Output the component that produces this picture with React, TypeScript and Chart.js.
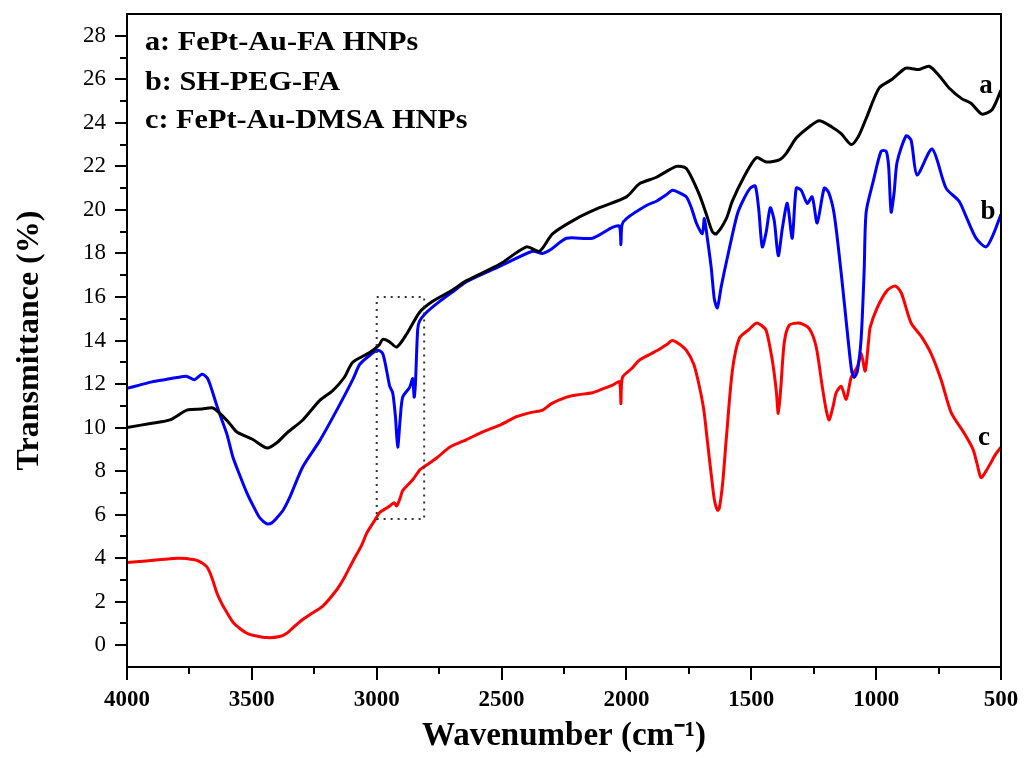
import React, { useEffect, useRef } from "react";
import { Chart, registerables } from "chart.js";

Chart.register(...registerables);

const SERIF = '"Liberation Serif", "Times New Roman", serif';

// a: FePt-Au-FA HNPs
const wavenumberA = [
  4000, 3900, 3828, 3760, 3700, 3656, 3628, 3590, 3560, 3496, 3440, 3400, 3360, 3296, 3228, 3176,
  3130, 3096, 3028, 2990, 2976, 2950, 2920, 2880, 2828, 2776, 2700, 2640, 2508, 2400, 2348, 2296,
  2200, 2108, 2000, 1948, 1880, 1800, 1760, 1708, 1680, 1656, 1640, 1600, 1576, 1530, 1480, 1440,
  1388, 1360, 1320, 1270, 1228, 1176, 1140, 1100, 1070, 1040, 988, 936, 884, 860, 828, 788, 750,
  708, 656, 620, 576, 536, 500,
];
const transmittanceA = [
  10.0, 10.2, 10.35, 10.8, 10.85, 10.9, 10.65, 10.2, 9.8, 9.45, 9.06, 9.3, 9.75, 10.35, 11.25, 11.7,
  12.3, 13.0, 13.45, 13.8, 14.05, 13.95, 13.7, 14.3, 15.3, 15.8, 16.3, 16.75, 17.5, 18.3, 18.1, 18.9,
  19.6, 20.1, 20.6, 21.2, 21.5, 22.0, 21.9, 20.7, 19.8, 19.0, 18.9, 19.6, 20.4, 21.5, 22.4, 22.2,
  22.3, 22.6, 23.3, 23.8, 24.1, 23.8, 23.5, 23.0, 23.4, 24.2, 25.6, 26.0, 26.5, 26.5, 26.45, 26.6, 26.2,
  25.6, 25.1, 24.9, 24.4, 24.6, 25.5,
];

// b: SH-PEG-FA
const wavenumberB = [
  4000, 3950, 3900, 3850, 3800, 3760, 3730, 3700, 3680, 3668, 3640, 3628, 3600, 3576, 3548, 3520,
  3490, 3468, 3440, 3420, 3400, 3375, 3348, 3296, 3228, 3160, 3096, 3068, 3030, 2996, 2976, 2960,
  2948, 2936, 2925, 2916, 2906, 2896, 2868, 2856, 2850, 2845, 2836, 2828, 2800, 2748, 2700, 2640,
  2508, 2376, 2336, 2300, 2240, 2136, 2056, 2028, 2022, 2018, 2000, 1920, 1880, 1840, 1816, 1790,
  1760, 1740, 1720, 1696, 1688, 1676, 1660, 1648, 1636, 1620, 1596, 1556, 1530, 1504, 1484, 1470,
  1456, 1440, 1424, 1408, 1392, 1375, 1356, 1336, 1320, 1300, 1276, 1256, 1236, 1208, 1190, 1168,
  1140, 1112, 1098, 1088, 1075, 1060, 1048, 1040, 1012, 980, 960, 950, 940, 928, 916, 880, 860, 836,
  776, 720, 668, 640, 600, 560, 530, 500,
];
const transmittanceB = [
  11.8, 11.95, 12.1, 12.2, 12.3, 12.35, 12.2, 12.45, 12.3, 12.0, 11.0, 10.6, 9.7, 8.65, 7.8, 7.0,
  6.3, 5.85, 5.58, 5.62, 5.85, 6.2, 6.8, 8.2, 9.4, 10.8, 12.2, 12.9, 13.3, 13.55, 13.4, 12.6,
  11.9, 11.6, 10.5, 9.1, 10.4, 11.4, 11.85, 12.25, 11.4, 12.0, 14.5, 14.9, 15.3, 15.8, 16.2, 16.7,
  17.4, 18.1, 18.0, 18.2, 18.7, 18.7, 19.2, 19.25, 18.4, 19.3, 19.6, 20.2, 20.4, 20.7, 20.9, 20.8,
  20.6, 20.1, 19.4, 18.9, 19.6, 18.7, 17.3, 15.9, 15.5, 16.5, 17.8, 19.8, 20.5, 21.0, 21.1, 20.0,
  18.3, 19.0, 20.1, 19.5, 17.9, 19.2, 20.3, 18.7, 21.0, 20.9, 20.3, 20.6, 19.4, 21.0, 20.8, 19.8,
  17.1, 14.0, 12.6, 12.3, 12.6, 14.1, 17.2, 19.9, 21.3, 22.7, 22.7, 22.0, 19.9, 20.8, 22.2, 23.4, 23.2, 21.6,
  22.8, 21.0, 20.4, 19.7, 18.7, 18.3, 18.9, 19.8,
];

// c: FePt-Au-DMSA HNPs
const wavenumberC = [
  4000, 3950, 3896, 3850, 3800, 3760, 3720, 3680, 3660, 3640, 3620, 3600, 3575, 3548, 3520, 3496,
  3440, 3388, 3360, 3336, 3300, 3268, 3216, 3160, 3130, 3096, 3060, 3040, 3010, 2988, 2960, 2948,
  2930, 2920, 2905, 2896, 2856, 2828, 2816, 2760, 2708, 2640, 2576, 2500, 2440, 2380, 2336, 2300,
  2240, 2200, 2136, 2090, 2056, 2028, 2022, 2016, 1980, 1948, 1900, 1868, 1840, 1816, 1790, 1760,
  1730, 1708, 1690, 1676, 1660, 1648, 1635, 1628, 1615, 1600, 1576, 1548, 1510, 1480, 1460, 1440,
  1416, 1400, 1392, 1382, 1368, 1348, 1308, 1268, 1240, 1216, 1200, 1188, 1172, 1160, 1140, 1120,
  1100, 1075, 1060, 1044, 1030, 1024, 996, 956, 924, 900, 888, 860, 820, 780, 740, 700, 648, 612,
  595, 580, 560, 540, 520, 500,
];
const transmittanceC = [
  3.8, 3.85, 3.9, 3.95, 4.0, 3.98, 3.9, 3.6, 3.1, 2.4, 1.9, 1.5, 1.05, 0.77, 0.55, 0.46,
  0.35, 0.4, 0.55, 0.8, 1.15, 1.4, 1.8, 2.55, 3.1, 3.85, 4.6, 5.15, 5.7, 6.1, 6.3, 6.4,
  6.55, 6.4, 6.8, 7.1, 7.6, 8.05, 8.15, 8.6, 9.1, 9.45, 9.8, 10.15, 10.5, 10.7, 10.8, 11.1,
  11.4, 11.5, 11.6, 11.8, 11.95, 12.1, 11.1, 12.3, 12.7, 13.1, 13.4, 13.6, 13.8, 14.0, 13.85, 13.55,
  12.9, 11.9, 10.8, 9.4, 7.8, 6.7, 6.2, 6.3, 7.4, 9.5, 12.6, 14.1, 14.5, 14.8, 14.7, 14.45,
  13.1, 11.7, 10.65, 11.8, 13.9, 14.7, 14.8, 14.55, 13.7, 11.9, 10.8, 10.35, 11.0, 11.6, 11.9, 11.3,
  12.3, 12.8, 13.4, 12.6, 14.0, 14.6, 15.5, 16.3, 16.5, 16.2, 15.8, 14.8, 14.2, 13.4, 12.2, 10.7, 9.75, 9.0,
  8.3, 7.7, 8.0, 8.4, 8.8, 9.1,
];

const yTickValues = [0, 2, 4, 6, 8, 10, 12, 14, 16, 18, 20, 22, 24, 26, 28];
const xTickValues = [4000, 3500, 3000, 2500, 2000, 1500, 1000, 500];
const legendLines = ["a: FePt-Au-FA HNPs", "b: SH-PEG-FA", "c: FePt-Au-DMSA HNPs"];

// C-H stretching region highlighted by a dotted box
const boxWavenumbers = [3000, 2810];
const boxTransmittance = [16, 5.8];

const toPoints = (xs: number[], ys: number[]) => xs.map((x, i) => ({ x, y: ys[i] }));

const zeroScalePadding = (s: any) => {
  s.paddingTop = 0;
  s.paddingBottom = 0;
  s.paddingLeft = 0;
  s.paddingRight = 0;
};

const framePlugin = {
  id: "frameAndTicks",
  afterDraw(chart: any) {
    const { ctx, chartArea: a, scales } = chart;
    const xs = scales.x;
    const ys = scales.y;
    ctx.save();
    ctx.strokeStyle = "#000";
    ctx.lineWidth = 2;
    ctx.strokeRect(a.left, a.top, a.right - a.left, a.bottom - a.top);

    ctx.beginPath();
    for (let v = 0; v <= 28; v++) {
      const y = Math.round(ys.getPixelForValue(v));
      const len = v % 2 === 0 ? 12 : 7;
      ctx.moveTo(a.left - len, y);
      ctx.lineTo(a.left, y);
    }
    for (let w = 4000; w >= 500; w -= 250) {
      const x = Math.round(xs.getPixelForValue(w));
      const len = w % 500 === 0 ? 13 : 7;
      ctx.moveTo(x, a.bottom);
      ctx.lineTo(x, a.bottom + len);
    }
    ctx.stroke();

    // dotted box
    const bx0 = xs.getPixelForValue(boxWavenumbers[0]);
    const bx1 = xs.getPixelForValue(boxWavenumbers[1]);
    const by0 = ys.getPixelForValue(boxTransmittance[0]);
    const by1 = ys.getPixelForValue(boxTransmittance[1]);
    ctx.setLineDash([2, 5]);
    ctx.lineWidth = 2;
    ctx.strokeStyle = "#333";
    ctx.strokeRect(bx0, by0, bx1 - bx0, by1 - by0);
    ctx.setLineDash([]);

    // legend text
    ctx.fillStyle = "#000";
    ctx.font = `bold 27px ${SERIF}`;
    ctx.textBaseline = "alphabetic";
    ctx.textAlign = "left";
    const baselines = [36, 76, 114];
    legendLines.forEach((t, i) => {
      ctx.save();
      ctx.translate(a.left + 18, a.top + baselines[i]);
      ctx.scale(1.12, 1);
      ctx.fillText(t, 0, 0);
      ctx.restore();
    });

    // curve tags
    ctx.font = `bold 27px ${SERIF}`;
    ctx.textAlign = "center";
    ctx.textBaseline = "middle";
    const tags = [
      { t: "a", x: 560, y: 25.7 },
      { t: "b", x: 552, y: 19.9 },
      { t: "c", x: 568, y: 9.5 },
    ];
    tags.forEach((g) => {
      ctx.fillText(g.t, xs.getPixelForValue(g.x), ys.getPixelForValue(g.y));
    });
    ctx.restore();
  },
};

export default function App() {
  const ref = useRef<HTMLCanvasElement>(null);

  useEffect(() => {
    const lineStyle = {
      borderWidth: 3,
      pointRadius: 0,
      tension: 0.25,
      fill: false,
    };
    const chart = new Chart(ref.current!, {
      type: "line",
      data: {
        datasets: [
          { label: "a", data: toPoints(wavenumberA, transmittanceA), borderColor: "#000000", ...lineStyle },
          { label: "b", data: toPoints(wavenumberB, transmittanceB), borderColor: "#0000ff", ...lineStyle },
          { label: "c", data: toPoints(wavenumberC, transmittanceC), borderColor: "#ff0000", ...lineStyle },
        ],
      },
      options: {
        animation: false,
        responsive: true,
        maintainAspectRatio: false,
        layout: { padding: { top: 14, right: 26, left: 0, bottom: 0 } },
        plugins: { legend: { display: false }, tooltip: { enabled: false } },
        scales: {
          x: {
            type: "linear",
            reverse: true,
            min: 500,
            max: 4000,
            afterBuildTicks: (s: any) => {
              s.ticks = xTickValues.map((v) => ({ value: v }));
            },
            afterFit: (s: any) => {
              s.height = 91;
              zeroScalePadding(s);
            },
            grid: { display: false, drawTicks: false, tickLength: 0 },
            border: { display: false },
            ticks: {
              padding: 19,
              maxRotation: 0,
              autoSkip: false,
              color: "#000",
              font: { family: SERIF, size: 23, weight: "bold" },
              callback: (v: any) => String(v),
            },
            title: {
              display: true,
              text: "Wavenumber (cm\u207B\u00B9)",
              color: "#000",
              font: { family: SERIF, size: 33, weight: "bold" },
              padding: { top: 0, bottom: 2 },
            },
          },
          y: {
            type: "linear",
            min: -1,
            max: 29,
            afterBuildTicks: (s: any) => {
              s.ticks = yTickValues.map((v) => ({ value: v }));
            },
            afterFit: (s: any) => {
              s.width = 127;
              zeroScalePadding(s);
            },
            grid: { display: false, drawTicks: false, tickLength: 0 },
            border: { display: false },
            ticks: {
              padding: 21,
              autoSkip: false,
              color: "#000",
              font: { family: SERIF, size: 23 },
              callback: (v: any) => String(v),
            },
            title: {
              display: true,
              text: "Transmittance (%)",
              color: "#000",
              font: { family: SERIF, size: 32, weight: "bold" },
              padding: { top: 11, bottom: 0 },
            },
          },
        },
      },
      plugins: [framePlugin],
    } as any);
    return () => chart.destroy();
  }, []);

  return (
    <div style={{ position: "fixed", left: 0, top: 0, width: 1027, height: 758, background: "#fff" }}>
      <canvas ref={ref} />
    </div>
  );
}
